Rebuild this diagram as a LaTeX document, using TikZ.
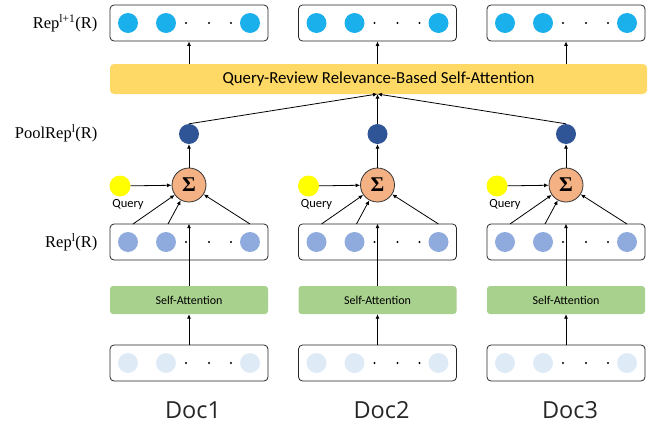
\documentclass[tikz,border=0pt]{standalone}
\usepackage{fontspec}
\setsansfont{Carlito}
\setmainfont{Liberation Serif}
\newfontfamily\docfont{Open Sans}
\usetikzlibrary{arrows.meta}
\definecolor{repTop}{HTML}{1AB0EC}
\definecolor{repMid}{HTML}{8FAADC}
\definecolor{repLow}{HTML}{DEEBF7}
\definecolor{poolBlue}{HTML}{2F5597}
\definecolor{barYellow}{HTML}{FFD966}
\definecolor{saGreen}{HTML}{A9D18E}
\definecolor{sumOrange}{HTML}{F4B183}
\definecolor{qYellow}{HTML}{FFFF00}
\tikzset{
  rowbox/.style={draw=black!85, line width=0.8pt, rounded corners=4pt, minimum width=158pt, minimum height=36pt, inner sep=0pt},
  dotc/.style={circle, minimum size=20pt, inner sep=0pt, fill=#1},
  smalldot/.style={circle, fill=black, minimum size=2.4pt, inner sep=0pt},
  sabox/.style={fill=saGreen, rounded corners=3pt, minimum width=158pt, minimum height=28pt, inner sep=0pt, font=\sffamily\fontsize{12}{14}\selectfont},
  sumnode/.style={circle, draw=black!80, line width=0.8pt, fill=sumOrange, minimum size=34pt, inner sep=0pt},
  querynode/.style={circle, fill=qYellow, minimum size=21pt, inner sep=0pt},
  arr/.style={-{Latex[length=4.5pt,width=4pt]}, line width=0.8pt, black},
  sidelabel/.style={anchor=east, font=\fontsize{16.5}{19}\selectfont},
}
\begin{document}
\begin{tikzpicture}[x=1pt,y=-1pt]
\useasboundingbox (0,0) rectangle (657,426);

% attention bar across all documents
\node[fill=barYellow, rounded corners=4pt, minimum width=537pt, minimum height=30pt, inner sep=0pt,
      font=\sffamily\fontsize{16.8}{19}\selectfont] (bar) at (378.5,79) {Query-Review Relevance-Based Self-Attention};

% side labels
\node[sidelabel] (lblTop) at (101,23) {Rep\textsuperscript{l+1}(R)};
\node[sidelabel] (lblPool) at (101,133) {PoolRep\textsuperscript{l}(R)};
\node[sidelabel] (lblMid) at (101,242) {Rep\textsuperscript{l}(R)};

\foreach \i/\L in {1/110,2/298.5,3/487}{
  \pgfmathsetmacro{\C}{\L+79}
  % output representation row
  \node[rowbox] (top\i) at (\C,23) {};
  \node[dotc=repTop] (t\i a) at (\L+18,23) {};
  \node[dotc=repTop] (t\i b) at (\L+56,23) {};
  \node[dotc=repTop] (t\i c) at (\L+140,23) {};
  \node[smalldot] (t\i d1) at (\L+76,23) {};
  \node[smalldot] (t\i d2) at (\L+99,23) {};
  \node[smalldot] (t\i d3) at (\L+121,23) {};
  % pooled representation
  \node[dotc=poolBlue] (pool\i) at (\C,134) {};
  % weighted sum
  \node[sumnode] (sum\i) at (\C,185) {\fontsize{21}{22}\selectfont\bfseries Σ};
  \node[querynode] (q\i) at (\L+10,186) {};
  \node[font=\sffamily\fontsize{12.5}{14}\selectfont] (ql\i) at (\L+18,204) {Query};
  % layer-l representation row
  \node[rowbox] (mid\i) at (\C,242) {};
  \node[dotc=repMid] (m\i a) at (\L+18,242) {};
  \node[dotc=repMid] (m\i b) at (\L+56,242) {};
  \node[dotc=repMid] (m\i c) at (\L+140,242) {};
  \node[smalldot] (m\i d1) at (\L+76,242) {};
  \node[smalldot] (m\i d2) at (\L+99,242) {};
  \node[smalldot] (m\i d3) at (\L+121,242) {};
  % self-attention block
  \node[sabox] (sa\i) at (\C,300) {Self-Attention};
  % input row
  \node[rowbox] (low\i) at (\C,363) {};
  \node[dotc=repLow] (l\i a) at (\L+18,363) {};
  \node[dotc=repLow] (l\i b) at (\L+56,363) {};
  \node[dotc=repLow] (l\i c) at (\L+140,363) {};
  \node[smalldot] (l\i d1) at (\L+76,363) {};
  \node[smalldot] (l\i d2) at (\L+99,363) {};
  \node[smalldot] (l\i d3) at (\L+121,363) {};
  % document caption
  \node[font=\docfont\fontsize{23.5}{27}\selectfont, text=black!85] (doc\i) at (\C+4,410) {Doc\i};

  % connectors
  \coordinate (barTop\i) at (\C,64);
  \draw[arr] (barTop\i) -- (top\i.south);
  \draw[arr] (low\i.north) -- (sa\i.south);
  \draw[arr] (sa\i.north) -- (mid\i.north -| sa\i.north);
  \coordinate (in\i a) at (\L+23,224);
  \coordinate (in\i b) at (\L+58,224);
  \coordinate (in\i c) at (\L+140,224);
  \draw[arr] (in\i a) -- (sum\i);
  \draw[arr] (in\i b) -- (sum\i);
  \draw[arr] (in\i c) -- (sum\i);
  \draw[arr] (q\i) -- (sum\i);
  \draw[arr] (sum\i) -- (pool\i);
}
\coordinate (barIn) at (377.5,94);
\draw[arr] (pool1.north) -- (barIn);
\draw[arr] (pool2.north) -- (barIn);
\draw[arr] (pool3.north) -- (barIn);
\end{tikzpicture}
\end{document}
